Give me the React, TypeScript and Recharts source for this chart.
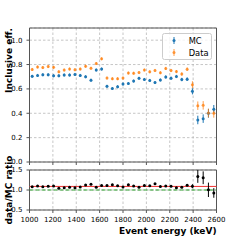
import React from 'react';
import { ComposedChart, Scatter, ErrorBar, XAxis, YAxis, CartesianGrid, ReferenceLine, ReferenceArea, Legend, Label } from 'recharts';

// bin centres (keV), 35 bins between 1000 and 2600
const binCenters = [
  1023, 1069, 1114, 1160, 1206, 1251, 1297, 1343, 1389, 1434, 1480, 1526, 1571, 1617, 1663, 1709, 1754, 1800,
  1846, 1891, 1937, 1983, 2029, 2074, 2120, 2166, 2211, 2257, 2303, 2349, 2394, 2440, 2486, 2531, 2577,
];

const mcEff = [
  0.703, 0.711, 0.716, 0.716, 0.708, 0.708, 0.714, 0.714, 0.719, 0.711, 0.7, 0.672, 0.755, 0.763, 0.621, 0.603, 0.618, 0.64,
  0.644, 0.664, 0.687, 0.678, 0.67, 0.652, 0.673, 0.698, 0.688, 0.702, 0.677, 0.68, 0.58, 0.345, 0.356, 0.4, 0.432,
];
const mcErr = [
  0.012, 0.012, 0.012, 0.012, 0.012, 0.012, 0.012, 0.012, 0.012, 0.012, 0.012, 0.012, 0.012, 0.012, 0.012, 0.012, 0.012, 0.012,
  0.012, 0.012, 0.012, 0.012, 0.012, 0.012, 0.012, 0.013, 0.013, 0.013, 0.014, 0.015, 0.025, 0.035, 0.035, 0.036, 0.036,
];

const dataEff = [
  0.76, 0.78, 0.775, 0.783, 0.777, 0.741, 0.755, 0.763, 0.758, 0.763, 0.786, 0.77, 0.808, 0.847, 0.689, 0.684, 0.684, 0.689,
  0.73, 0.729, 0.734, 0.755, 0.74, 0.752, 0.733, 0.768, 0.751, 0.742, 0.722, 0.762, 0.635, 0.462, 0.465, 0.402, 0.4,
];
const dataErr = [
  0.012, 0.012, 0.012, 0.012, 0.012, 0.012, 0.012, 0.012, 0.012, 0.012, 0.012, 0.012, 0.012, 0.012, 0.012, 0.012, 0.012, 0.012,
  0.012, 0.012, 0.012, 0.012, 0.012, 0.012, 0.012, 0.013, 0.013, 0.013, 0.014, 0.015, 0.028, 0.035, 0.035, 0.036, 0.036,
];

const ratioErr = [
  0.02, 0.02, 0.02, 0.02, 0.02, 0.02, 0.02, 0.02, 0.02, 0.02, 0.02, 0.02, 0.02, 0.02, 0.02, 0.02, 0.02, 0.02,
  0.02, 0.02, 0.02, 0.02, 0.02, 0.02, 0.02, 0.02, 0.02, 0.02, 0.02, 0.025, 0.05, 0.16, 0.16, 0.18, 0.12,
];

const xTicks = [1000, 1200, 1400, 1600, 1800, 2000, 2200, 2400, 2600];
const effTicks = [0, 0.2, 0.4, 0.6, 0.8, 1.0];
const ratioTicks = [0.5, 1.0, 1.5];
const meanRatio = 1.088;
const meanRatioErr = 0.016;

const legendItems = [
  { name: 'MC', color: '#1f77b4', opacity: 1 },
  { name: 'Data', color: '#ff7f0e', opacity: 0.75 },
];

const mcPoints = binCenters.map((x, i) => ({ x, y: mcEff[i], err: mcErr[i] }));
const dataPoints = binCenters.map((x, i) => ({ x, y: dataEff[i], err: dataErr[i] }));
const ratioPoints = binCenters.map((x, i) => ({ x, y: dataEff[i] / mcEff[i], err: ratioErr[i] }));

const spine = '#555';
const tickStyle = { fontSize: 7, fill: '#000' };

const dot = (color: string, opacity = 1) => (props: any) =>
  <circle cx={props.cx} cy={props.cy} r={1.5} fill={color} fillOpacity={opacity} />;

const renderLegend = () => (
  <div style={{ width: 48, border: '1px solid #ccc', borderRadius: 2.5, background: 'rgba(255,255,255,0.8)', fontSize: 8.3, color: '#000', padding: '1px 0' }}>
    {legendItems.map((it) => (
      <div key={it.name} style={{ display: 'flex', alignItems: 'center', height: 11.7 }}>
        <svg width={26} height={11}>
          <line x1={11} x2={11} y1={2} y2={9} stroke={it.color} strokeOpacity={it.opacity} />
          <circle cx={11} cy={5.5} r={1.5} fill={it.color} fillOpacity={it.opacity} />
        </svg>
        <span>{it.name}</span>
      </div>
    ))}
  </div>
);

export default function App() {
  return (
    <div style={{ position: 'absolute', left: 0, top: 0, width: 240, height: 240, background: '#fff', fontFamily: '"DejaVu Sans", sans-serif' }}>
      <div style={{ position: 'absolute', left: 0, top: 0 }}>
        <ComposedChart width={240} height={166} margin={{ top: 28, right: 23.5, bottom: 0, left: 0 }}>
          <CartesianGrid stroke="#b8b8b8" strokeDasharray="2.5 2" strokeWidth={0.8} />
          <XAxis
            dataKey="x"
            type="number"
            domain={[1000, 2600]}
            ticks={xTicks}
            interval={0}
            height={4}
            tickSize={3}
            axisLine={false}
            tickLine={{ stroke: spine }}
            tick={() => <g />}
          />
          <YAxis
            dataKey="y"
            type="number"
            domain={[0, 1.1]}
            ticks={effTicks}
            interval={0}
            width={29.5}
            tickSize={3}
            tickMargin={4}
            axisLine={false}
            tickLine={{ stroke: spine }}
            tick={tickStyle}
            tickFormatter={(v) => v.toFixed(1)}
          >
            <Label content={() => (
              <text x={11.5} y={28} transform="rotate(-90 11.5 28)" textAnchor="end" fontSize={9} fontWeight="bold" fill="#000">Inclusive eff.</text>
            )} />
          </YAxis>
          <Scatter name="MC" data={mcPoints} shape={dot('#1f77b4')} isAnimationActive={false}>
            <ErrorBar dataKey="err" direction="y" width={0} stroke="#1f77b4" strokeWidth={1} isAnimationActive={false} />
          </Scatter>
          <Scatter name="Data" data={dataPoints} shape={dot('#ff7f0e', 0.75)} isAnimationActive={false}>
            <ErrorBar dataKey="err" direction="y" width={0} stroke="#ff7f0e" strokeOpacity={0.75} strokeWidth={1} isAnimationActive={false} />
          </Scatter>
          <ReferenceArea x1={1000} x2={2600} y1={0} y2={1.1} fill="none" stroke={spine} strokeWidth={1} />
          <Legend content={renderLegend} verticalAlign="middle" align="center" wrapperStyle={{ left: 161.7, top: 33, width: 50 }} />
        </ComposedChart>
      </div>
      <div style={{ position: 'absolute', left: 0, top: 140 }}>
        <ComposedChart width={240} height={100} margin={{ top: 30, right: 23.5, bottom: 0, left: 0 }}>
          <CartesianGrid stroke="#b8b8b8" strokeDasharray="2.5 2" strokeWidth={0.8} />
          <XAxis
            dataKey="x"
            type="number"
            domain={[1000, 2600]}
            ticks={xTicks}
            interval={0}
            height={30}
            tickSize={3}
            tickMargin={4}
            axisLine={false}
            tickLine={{ stroke: spine }}
            tick={tickStyle}
          >
            <Label content={() => (
              <text x={216.5} y={93.5} textAnchor="end" fontSize={9} fontWeight="bold" fill="#000">Event energy (keV)</text>
            )} />
          </XAxis>
          <YAxis
            dataKey="y"
            type="number"
            domain={[0.5, 1.5]}
            ticks={ratioTicks}
            interval={0}
            width={29.5}
            tickSize={3}
            tickMargin={4}
            axisLine={false}
            tickLine={{ stroke: spine }}
            tick={tickStyle}
            tickFormatter={(v) => v.toFixed(1)}
            allowDataOverflow
          >
            <Label content={() => (
              <text x={11.5} y={50} transform="rotate(-90 11.5 50)" textAnchor="middle" fontSize={9} fontWeight="bold" fill="#000">data/MC ratio</text>
            )} />
          </YAxis>
          <ReferenceArea y1={meanRatio - meanRatioErr} y2={meanRatio + meanRatioErr} fill="#ff0000" fillOpacity={0.2} stroke="none" />
          <ReferenceLine y={1} stroke="#2ca02c" strokeDasharray="4 2" strokeWidth={1} />
          <ReferenceLine y={meanRatio} stroke="#f03c3c" strokeWidth={1} />
          <Scatter name="ratio" data={ratioPoints} shape={dot('#000')} isAnimationActive={false}>
            <ErrorBar dataKey="err" direction="y" width={0} stroke="#000" strokeWidth={1} isAnimationActive={false} />
          </Scatter>
          <ReferenceArea x1={1000} x2={2600} y1={0.5} y2={1.5} fill="none" stroke={spine} strokeWidth={1} />
        </ComposedChart>
      </div>
    </div>
  );
}
